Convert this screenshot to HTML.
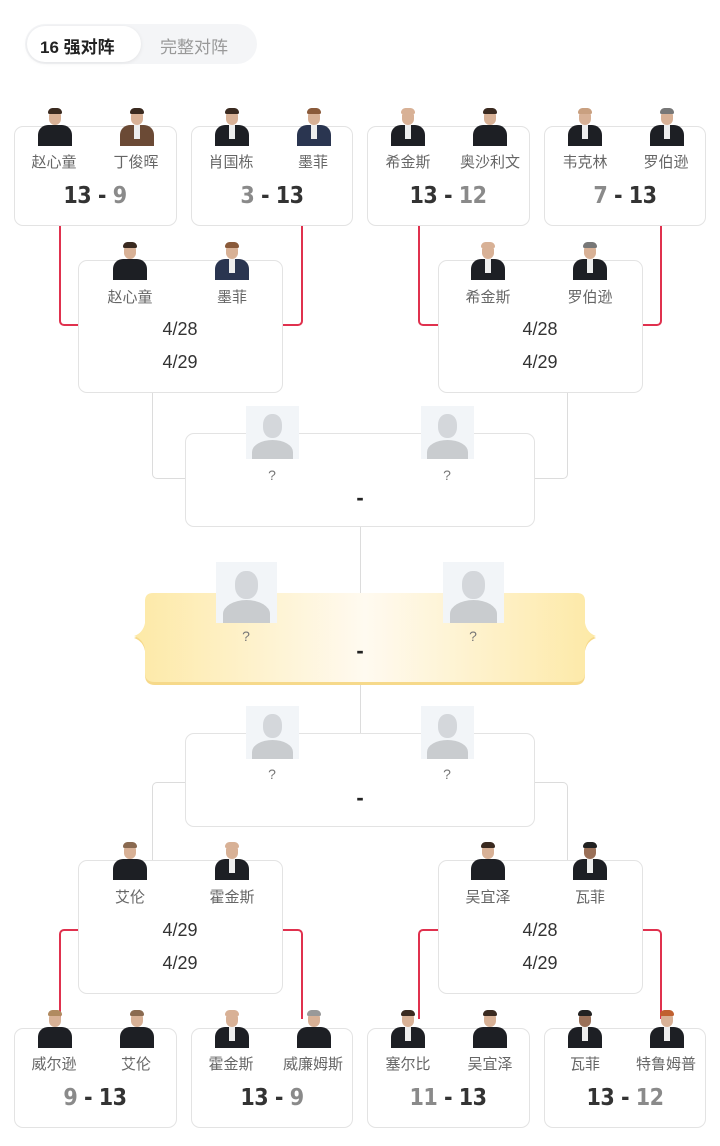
<!DOCTYPE html>
<html><head><meta charset="utf-8">
<style>
*{margin:0;padding:0;box-sizing:border-box}
body{width:720px;height:1146px;background:#fff;position:relative;overflow:hidden;font-family:"Liberation Sans","Noto Sans CJK SC",sans-serif}
.a{position:absolute}
.card{position:absolute;border:1px solid #e3e3e3;border-radius:9px;background:#fff}
.nm{position:absolute;font-size:15px;color:#666;text-align:center;width:80px;margin-left:-40px}
.sc{position:absolute;font-size:23px;font-weight:bold;text-align:center;width:120px;margin-left:-60px;color:#333;letter-spacing:-0.5px;font-family:"DejaVu Sans Condensed","Liberation Sans",sans-serif}
.sc .l{color:#8a8a8a}
.dt{position:absolute;font-size:18px;color:#333;text-align:center;width:80px;margin-left:-40px}
.av{position:absolute;width:40px;height:40px;margin-left:-20px;overflow:hidden}
.av .h{position:absolute;left:14px;top:4px;width:12px;height:15px;border-radius:6px;background:#d8b196}
.av .hr{position:absolute;left:13px;top:2px;width:14px;height:6px;border-radius:6px 6px 2px 2px;background:#3a2a20}
.av .b{position:absolute;left:3px;top:19px;width:34px;height:24px;border-radius:10px 10px 0 0;background:#1d1f24}
.av .s{position:absolute;left:17px;top:19px;width:6px;height:14px;background:#eee}
.ph{position:absolute;background:#f2f5f8;overflow:hidden}
.ph .h{position:absolute;background:#d4d7db;border-radius:45%}
.ph .b{position:absolute;background:#c9cccf;border-radius:50% 50% 0 0}
.q{position:absolute;font-size:14px;color:#777;width:20px;margin-left:-10px;text-align:center}
.ds{position:absolute;font-size:22px;font-weight:bold;color:#222;width:20px;margin-left:-10px;text-align:center}
.rl{position:absolute;border-color:#e0314e;border-style:solid;border-width:0}
.gl{position:absolute;border-color:#dcdcdc;border-style:solid;border-width:0}
</style></head><body>

<div class="a" style="left:25px;top:24px;width:232px;height:40px;border-radius:20px;background:#f4f5f7"></div>
<div class="a" style="left:27px;top:26px;width:114px;height:36px;border-radius:18px;background:#fff;box-shadow:0 1px 4px rgba(0,0,0,.08)"></div>
<div class="a" style="left:40px;top:33px;font-size:17px;font-weight:bold;color:#222">16 强对阵</div>
<div class="a" style="left:160px;top:33px;font-size:17px;color:#999">完整对阵</div>

<div class="rl" style="left:59px;top:225px;width:20px;height:101px;border-left-width:2px;border-bottom-width:2px;border-bottom-left-radius:5px"></div>
<div class="rl" style="left:282px;top:225px;width:21px;height:101px;border-right-width:2px;border-bottom-width:2px;border-bottom-right-radius:5px"></div>
<div class="rl" style="left:418px;top:225px;width:21px;height:101px;border-left-width:2px;border-bottom-width:2px;border-bottom-left-radius:5px"></div>
<div class="rl" style="left:641px;top:225px;width:21px;height:101px;border-right-width:2px;border-bottom-width:2px;border-bottom-right-radius:5px"></div>

<div class="gl" style="left:152px;top:392px;width:34px;height:87px;border-left-width:1px;border-bottom-width:1px;border-bottom-left-radius:5px"></div>
<div class="gl" style="left:534px;top:392px;width:34px;height:87px;border-right-width:1px;border-bottom-width:1px;border-bottom-right-radius:5px"></div>
<div class="gl" style="left:360px;top:526px;width:1px;height:210px;border-left-width:1px"></div>
<div class="gl" style="left:152px;top:782px;width:34px;height:80px;border-left-width:1px;border-top-width:1px;border-top-left-radius:5px"></div>
<div class="gl" style="left:534px;top:782px;width:34px;height:80px;border-right-width:1px;border-top-width:1px;border-top-right-radius:5px"></div>

<div class="rl" style="left:59px;top:929px;width:20px;height:90px;border-left-width:2px;border-top-width:2px;border-top-left-radius:5px"></div>
<div class="rl" style="left:282px;top:929px;width:21px;height:90px;border-right-width:2px;border-top-width:2px;border-top-right-radius:5px"></div>
<div class="rl" style="left:418px;top:929px;width:21px;height:90px;border-left-width:2px;border-top-width:2px;border-top-left-radius:5px"></div>
<div class="rl" style="left:641px;top:929px;width:21px;height:90px;border-right-width:2px;border-top-width:2px;border-top-right-radius:5px"></div>

<div class="card" style="left:14px;top:126px;width:163px;height:100px"></div>
<div class="card" style="left:191px;top:126px;width:162px;height:100px"></div>
<div class="card" style="left:367px;top:126px;width:163px;height:100px"></div>
<div class="card" style="left:544px;top:126px;width:162px;height:100px"></div>

<div class="av" style="left:55px;top:106px"><div class="b"></div><div class="h"></div><div class="hr"></div></div>
<div class="av" style="left:137px;top:106px"><div class="b" style="background:#6b4a35"></div><div class="s"></div><div class="h"></div><div class="hr"></div></div>
<div class="av" style="left:232px;top:106px"><div class="b"></div><div class="s"></div><div class="h"></div><div class="hr"></div></div>
<div class="av" style="left:314px;top:106px"><div class="b" style="background:#2a3550"></div><div class="s"></div><div class="h"></div><div class="hr" style="background:#8a5a3a"></div></div>
<div class="av" style="left:408px;top:106px"><div class="b"></div><div class="s"></div><div class="h"></div><div class="hr" style="background:#d8b196"></div></div>
<div class="av" style="left:490px;top:106px"><div class="b"></div><div class="h"></div><div class="hr"></div></div>
<div class="av" style="left:585px;top:106px"><div class="b"></div><div class="s"></div><div class="h"></div><div class="hr" style="background:#c9a080"></div></div>
<div class="av" style="left:667px;top:106px"><div class="b"></div><div class="s"></div><div class="h"></div><div class="hr" style="background:#777"></div></div>

<div class="nm" style="left:54px;top:151px">赵心童</div>
<div class="nm" style="left:136px;top:151px">丁俊晖</div>
<div class="nm" style="left:231px;top:151px">肖国栋</div>
<div class="nm" style="left:313px;top:151px">墨菲</div>
<div class="nm" style="left:408px;top:151px">希金斯</div>
<div class="nm" style="left:490px;top:151px">奥沙利文</div>
<div class="nm" style="left:585px;top:151px">韦克林</div>
<div class="nm" style="left:666px;top:151px">罗伯逊</div>

<div class="sc" style="left:95px;top:183px">13 - <span class="l">9</span></div>
<div class="sc" style="left:272px;top:183px"><span class="l">3</span> - 13</div>
<div class="sc" style="left:448px;top:183px">13 - <span class="l">12</span></div>
<div class="sc" style="left:625px;top:183px"><span class="l">7</span> - 13</div>

<div class="card" style="left:78px;top:260px;width:205px;height:133px"></div>
<div class="card" style="left:438px;top:260px;width:205px;height:133px"></div>
<div class="av" style="left:130px;top:240px"><div class="b"></div><div class="h"></div><div class="hr"></div></div>
<div class="av" style="left:232px;top:240px"><div class="b" style="background:#2a3550"></div><div class="s"></div><div class="h"></div><div class="hr" style="background:#8a5a3a"></div></div>
<div class="av" style="left:488px;top:240px"><div class="b"></div><div class="s"></div><div class="h"></div><div class="hr" style="background:#d8b196"></div></div>
<div class="av" style="left:590px;top:240px"><div class="b"></div><div class="s"></div><div class="h"></div><div class="hr" style="background:#777"></div></div>
<div class="nm" style="left:130px;top:286px">赵心童</div>
<div class="nm" style="left:232px;top:286px">墨菲</div>
<div class="nm" style="left:488px;top:286px">希金斯</div>
<div class="nm" style="left:590px;top:286px">罗伯逊</div>
<div class="dt" style="left:180px;top:319px">4/28</div>
<div class="dt" style="left:180px;top:352px">4/29</div>
<div class="dt" style="left:540px;top:319px">4/28</div>
<div class="dt" style="left:540px;top:352px">4/29</div>

<div class="card" style="left:185px;top:433px;width:350px;height:94px"></div>
<div class="ph" style="left:246px;top:406px;width:53px;height:53px"><div class="h" style="left:17px;top:8px;width:19px;height:24px"></div><div class="b" style="left:6px;top:34px;width:41px;height:24px"></div></div>
<div class="ph" style="left:421px;top:406px;width:53px;height:53px"><div class="h" style="left:17px;top:8px;width:19px;height:24px"></div><div class="b" style="left:6px;top:34px;width:41px;height:24px"></div></div>
<div class="q" style="left:272px;top:467px">?</div>
<div class="q" style="left:447px;top:467px">?</div>
<div class="ds" style="left:360px;top:485px">-</div>

<svg class="a" style="left:134px;top:590px" width="462" height="100">
<defs><linearGradient id="g" x1="0" x2="1"><stop offset="0" stop-color="#fde9a6"/><stop offset="0.5" stop-color="#fffaf0"/><stop offset="1" stop-color="#fde9a6"/></linearGradient></defs>
<path d="M19 5 H443 Q451 5 451 13 V35 Q453 45 462 48 Q453 51 451 61 V85 Q451 95 441 95 H21 Q11 95 11 85 V61 Q9 51 0 48 Q9 45 11 35 V13 Q11 5 19 5 Z" fill="#f6d98a"/>
<path d="M19 3 H443 Q451 3 451 11 V33 Q453 43 462 46 Q453 49 451 59 V83 Q451 92 441 92 H21 Q11 92 11 83 V59 Q9 49 0 46 Q9 43 11 33 V11 Q11 3 19 3 Z" fill="url(#g)"/>
</svg>
<div class="ph" style="left:216px;top:562px;width:61px;height:61px"><div class="h" style="left:19px;top:9px;width:23px;height:28px"></div><div class="b" style="left:7px;top:38px;width:47px;height:28px"></div></div>
<div class="ph" style="left:443px;top:562px;width:61px;height:61px"><div class="h" style="left:19px;top:9px;width:23px;height:28px"></div><div class="b" style="left:7px;top:38px;width:47px;height:28px"></div></div>
<div class="q" style="left:246px;top:628px">?</div>
<div class="q" style="left:473px;top:628px">?</div>
<div class="ds" style="left:360px;top:638px">-</div>

<div class="card" style="left:185px;top:733px;width:350px;height:94px"></div>
<div class="ph" style="left:246px;top:706px;width:53px;height:53px"><div class="h" style="left:17px;top:8px;width:19px;height:24px"></div><div class="b" style="left:6px;top:34px;width:41px;height:24px"></div></div>
<div class="ph" style="left:421px;top:706px;width:53px;height:53px"><div class="h" style="left:17px;top:8px;width:19px;height:24px"></div><div class="b" style="left:6px;top:34px;width:41px;height:24px"></div></div>
<div class="q" style="left:272px;top:766px">?</div>
<div class="q" style="left:447px;top:766px">?</div>
<div class="ds" style="left:360px;top:785px">-</div>

<div class="card" style="left:78px;top:860px;width:205px;height:134px"></div>
<div class="card" style="left:438px;top:860px;width:205px;height:134px"></div>
<div class="av" style="left:130px;top:840px"><div class="b"></div><div class="h"></div><div class="hr" style="background:#8a6a50"></div></div>
<div class="av" style="left:232px;top:840px"><div class="b"></div><div class="s"></div><div class="h"></div><div class="hr" style="background:#d8b196"></div></div>
<div class="av" style="left:488px;top:840px"><div class="b"></div><div class="h"></div><div class="hr"></div></div>
<div class="av" style="left:590px;top:840px"><div class="b"></div><div class="s"></div><div class="h" style="background:#9a7058"></div><div class="hr" style="background:#222"></div></div>
<div class="nm" style="left:130px;top:886px">艾伦</div>
<div class="nm" style="left:232px;top:886px">霍金斯</div>
<div class="nm" style="left:488px;top:886px">吴宜泽</div>
<div class="nm" style="left:590px;top:886px">瓦菲</div>
<div class="dt" style="left:180px;top:920px">4/29</div>
<div class="dt" style="left:180px;top:953px">4/29</div>
<div class="dt" style="left:540px;top:920px">4/28</div>
<div class="dt" style="left:540px;top:953px">4/29</div>

<div class="card" style="left:14px;top:1028px;width:163px;height:100px"></div>
<div class="card" style="left:191px;top:1028px;width:162px;height:100px"></div>
<div class="card" style="left:367px;top:1028px;width:163px;height:100px"></div>
<div class="card" style="left:544px;top:1028px;width:162px;height:100px"></div>

<div class="av" style="left:55px;top:1008px"><div class="b"></div><div class="h"></div><div class="hr" style="background:#b08a60"></div></div>
<div class="av" style="left:137px;top:1008px"><div class="b"></div><div class="h"></div><div class="hr" style="background:#8a6a50"></div></div>
<div class="av" style="left:232px;top:1008px"><div class="b"></div><div class="s"></div><div class="h"></div><div class="hr" style="background:#d8b196"></div></div>
<div class="av" style="left:314px;top:1008px"><div class="b"></div><div class="h"></div><div class="hr" style="background:#999"></div></div>
<div class="av" style="left:408px;top:1008px"><div class="b"></div><div class="s"></div><div class="h"></div><div class="hr"></div></div>
<div class="av" style="left:490px;top:1008px"><div class="b"></div><div class="h"></div><div class="hr"></div></div>
<div class="av" style="left:585px;top:1008px"><div class="b"></div><div class="s"></div><div class="h" style="background:#9a7058"></div><div class="hr" style="background:#222"></div></div>
<div class="av" style="left:667px;top:1008px"><div class="b"></div><div class="s"></div><div class="h"></div><div class="hr" style="background:#c06030"></div></div>

<div class="nm" style="left:54px;top:1053px">威尔逊</div>
<div class="nm" style="left:136px;top:1053px">艾伦</div>
<div class="nm" style="left:231px;top:1053px">霍金斯</div>
<div class="nm" style="left:313px;top:1053px">威廉姆斯</div>
<div class="nm" style="left:408px;top:1053px">塞尔比</div>
<div class="nm" style="left:490px;top:1053px">吴宜泽</div>
<div class="nm" style="left:585px;top:1053px">瓦菲</div>
<div class="nm" style="left:666px;top:1053px">特鲁姆普</div>

<div class="sc" style="left:95px;top:1085px"><span class="l">9</span> - 13</div>
<div class="sc" style="left:272px;top:1085px">13 - <span class="l">9</span></div>
<div class="sc" style="left:448px;top:1085px"><span class="l">11</span> - 13</div>
<div class="sc" style="left:625px;top:1085px">13 - <span class="l">12</span></div>

</body></html>
